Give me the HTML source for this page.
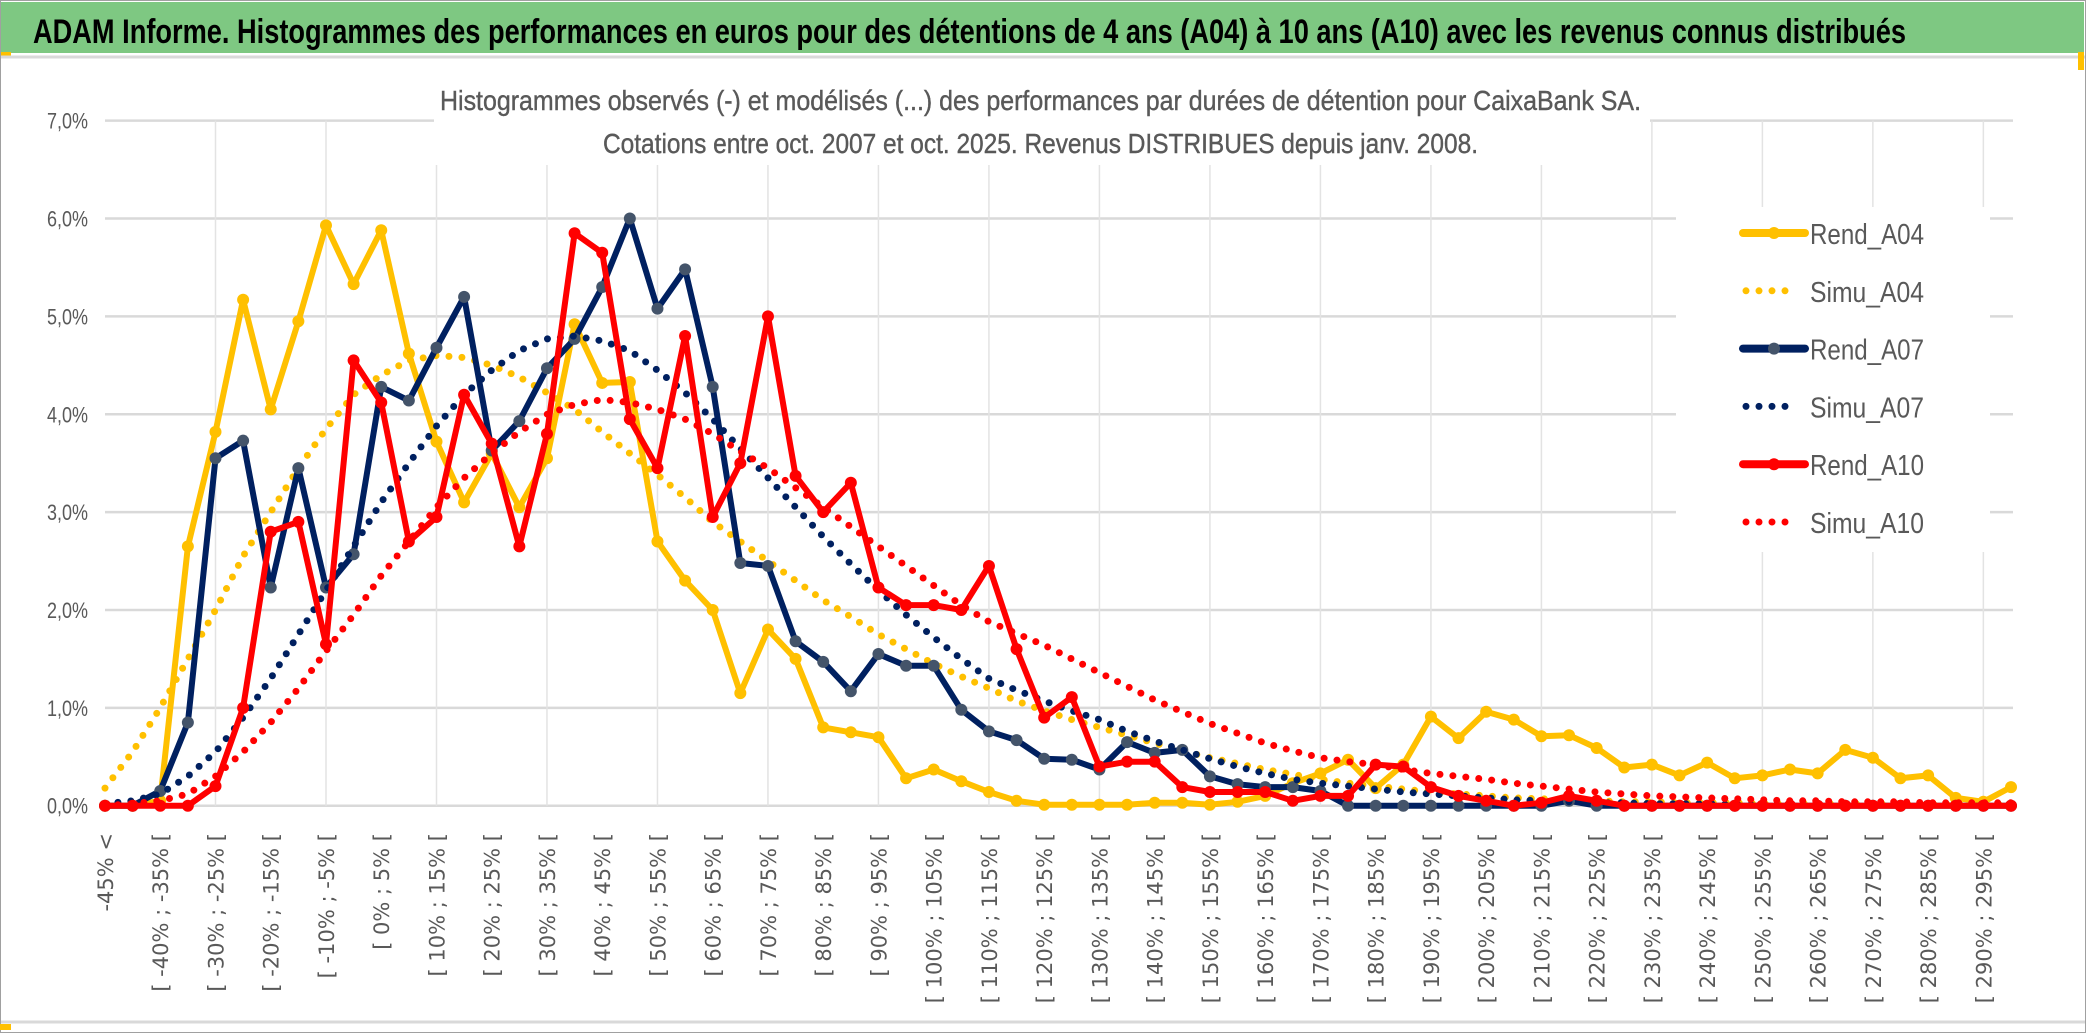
<!DOCTYPE html>
<html><head><meta charset="utf-8"><style>
html,body{margin:0;padding:0;background:#fff;}
svg{display:block;}
</style></head><body>
<svg id="chart" width="2086" height="1033" viewBox="0 0 2086 1033" xmlns="http://www.w3.org/2000/svg" font-family="Liberation Sans, sans-serif">
<rect x="0" y="0" width="2086" height="1033" fill="#fff"/>
<rect x="1" y="2" width="2083" height="51" fill="#7ec882"/>
<rect x="0" y="52" width="11" height="4" fill="#ffc000"/>
<text x="33" y="43" font-size="34" font-weight="bold" fill="#000" textLength="1873" lengthAdjust="spacingAndGlyphs">ADAM Informe. Histogrammes des performances en euros pour des détentions de 4 ans (A04) à 10 ans (A10) avec les revenus connus distribués</text>
<line x1="0" y1="57" x2="2086" y2="57" stroke="#d9d9d9" stroke-width="3"/>
<line x1="0" y1="1022" x2="2086" y2="1022" stroke="#d9d9d9" stroke-width="3"/>
<rect x="0" y="0" width="2086" height="1033" fill="none" stroke="#a0a0a0" stroke-width="2"/>
<rect x="0" y="1024" width="11" height="6" fill="#ffc000"/>
<rect x="2078" y="52" width="6" height="18" fill="#ffc000"/>
<g id="grid"></g>
<rect x="434" y="70" width="1216" height="95" fill="#fff"/>
<text x="440" y="110" font-size="28" fill="#595959" stroke="#595959" stroke-width="0.4" textLength="1201" lengthAdjust="spacingAndGlyphs">Histogrammes observés (-) et modélisés (...) des performances par durées de détention pour CaixaBank SA.</text>
<text x="603" y="153" font-size="28" fill="#595959" stroke="#595959" stroke-width="0.4" textLength="875" lengthAdjust="spacingAndGlyphs">Cotations entre oct. 2007 et oct. 2025. Revenus DISTRIBUES depuis janv. 2008.</text>
<g id="yaxis"></g>
<g id="xaxis"></g>
<g id="series"></g>
<rect x="1676" y="207" width="314" height="345" fill="#fff"/>
<g id="legend"></g>
</svg>
<script>
const categories = ["-45% <"];
for (let k = 1; k <= 69; k++) { const a = -50 + 5*k, b = -45 + 5*k; categories.push("[ " + a + "% ; " + b + "% ["); }
const yTicks = [0,1,2,3,4,5,6,7];
const yTickLabels = ["0,0%","1,0%","2,0%","3,0%","4,0%","5,0%","6,0%","7,0%"];
const seriesNames = ["Rend_A04","Simu_A04","Rend_A07","Simu_A07","Rend_A10","Simu_A10"];
const rendA04 = [0,0,0.05,2.65,3.82,5.17,4.05,4.95,5.93,5.33,5.88,4.62,3.72,3.1,3.6,3.05,3.55,4.92,4.32,4.33,2.7,2.3,2.0,1.15,1.8,1.5,0.8,0.75,0.7,0.28,0.37,0.25,0.14,0.05,0.01,0.01,0.01,0.01,0.03,0.03,0.01,0.04,0.1,0.23,0.33,0.47,0.18,0.42,0.91,0.69,0.96,0.88,0.71,0.72,0.59,0.39,0.42,0.31,0.44,0.28,0.31,0.37,0.33,0.57,0.49,0.28,0.31,0.08,0.04,0.19];
const simuA04 = [0.18,0.55,1.0,1.5,2.0,2.55,3.0,3.45,3.85,4.2,4.4,4.55,4.6,4.58,4.5,4.38,4.22,4.05,3.82,3.6,3.38,3.15,2.9,2.7,2.5,2.3,2.1,1.93,1.75,1.6,1.45,1.32,1.2,1.07,0.97,0.88,0.8,0.72,0.64,0.56,0.49,0.43,0.37,0.32,0.27,0.23,0.2,0.17,0.14,0.12,0.1,0.08,0.07,0.06,0.05,0.04,0.04,0.03,0.03,0.03,0.02,0.02,0.02,0.02,0.02,0.01,0.01,0.01,0.01,0.01];
const rendA07 = [0,0,0.15,0.85,3.55,3.73,2.23,3.45,2.23,2.57,4.28,4.14,4.68,5.2,3.63,3.93,4.47,4.77,5.3,6.0,5.08,5.48,4.28,2.48,2.45,1.68,1.47,1.17,1.55,1.43,1.43,0.98,0.76,0.67,0.48,0.47,0.37,0.65,0.54,0.57,0.3,0.22,0.19,0.19,0.15,0,0,0,0,0,0,0,0,0.05,0,0,0,0,0,0,0,0,0,0,0,0,0,0,0,0];
const simuA07 = [0.02,0.05,0.12,0.3,0.55,0.9,1.3,1.75,2.2,2.65,3.1,3.5,3.88,4.2,4.45,4.65,4.77,4.8,4.75,4.65,4.45,4.22,3.95,3.65,3.35,3.05,2.75,2.47,2.2,1.95,1.72,1.5,1.3,1.18,1.07,0.97,0.88,0.76,0.66,0.57,0.48,0.4,0.33,0.27,0.23,0.2,0.17,0.14,0.12,0.1,0.08,0.06,0.05,0.04,0.03,0.03,0.02,0.02,0.02,0.01,0.01,0.01,0.01,0.01,0.01,0.01,0.01,0.01,0.01,0.01];
const rendA10 = [0,0,0,0,0.2,1.0,2.8,2.9,1.65,4.55,4.12,2.7,2.95,4.2,3.7,2.65,3.8,5.85,5.65,3.95,3.45,4.8,2.95,3.5,5.0,3.37,3.0,3.3,2.23,2.05,2.05,2.0,2.45,1.6,0.9,1.11,0.4,0.45,0.45,0.19,0.14,0.14,0.14,0.05,0.1,0.1,0.42,0.4,0.19,0.1,0.05,0,0.03,0.1,0.05,0,0,0,0,0,0,0,0,0,0,0,0,0,0,0];
const simuA10 = [0,0.02,0.05,0.12,0.3,0.55,0.85,1.2,1.58,1.95,2.35,2.7,3.05,3.35,3.6,3.82,4.0,4.1,4.15,4.12,4.05,3.95,3.8,3.62,3.45,3.25,3.05,2.85,2.65,2.45,2.25,2.05,1.88,1.76,1.64,1.5,1.36,1.22,1.08,0.96,0.84,0.74,0.64,0.56,0.49,0.45,0.42,0.37,0.33,0.3,0.27,0.23,0.2,0.17,0.14,0.12,0.1,0.09,0.08,0.07,0.06,0.05,0.05,0.04,0.04,0.04,0.03,0.03,0.03,0.03];

const NS = "http://www.w3.org/2000/svg";
const X0 = 105, X1 = 2011, Y0 = 805.7, YPER = 97.86;
function xScale(i){ return X0 + (X1 - X0) * i / (categories.length - 1); }
function yScale(v){ return Y0 - v * YPER; }
function mk(tag, attrs, parent){ const e = document.createElementNS(NS, tag); for (const k in attrs) e.setAttribute(k, attrs[k]); parent.appendChild(e); return e; }

const grid = document.getElementById("grid");
yTicks.forEach((t) => {
  const l = mk("line", {x1: X0, x2: 2013, y1: yScale(t), y2: yScale(t), stroke: "#d9d9d9", "stroke-width": 2.5}, grid);
  
  
});
for (let i = 4; i < categories.length; i += 4) {
  const l = mk("line", {x1: xScale(i), x2: xScale(i), y1: yScale(7), y2: Y0, stroke: "#e3e3e3", "stroke-width": 1.5}, grid);
  
  
}

const yaxis = document.getElementById("yaxis");
yTicks.forEach((t, k) => {
  const tx = mk("text", {x: 88, y: yScale(t) + 8, "text-anchor": "end", "font-size": 22, fill: "#595959", textLength: 41, lengthAdjust: "spacingAndGlyphs"}, yaxis);
  tx.textContent = yTickLabels[k];
  
  
});

const xaxis = document.getElementById("xaxis");
categories.forEach((c, i) => {
  if (i % 2 !== 0) return;
  const x = xScale(i) + 8, y = 833;
  const tx = mk("text", {x: x, y: y, transform: "rotate(-90 " + x + " " + y + ")", "text-anchor": "end", "font-size": 21, "font-family": "DejaVu Sans, sans-serif", fill: "#595959"}, xaxis);
  tx.textContent = c;
  
  
});

const seriesData = [rendA04, simuA04, rendA07, simuA07, rendA10, simuA10];
const colors = ["#ffc000","#ffc000","#002060","#002060","#ff0000","#ff0000"];
const markerColors = ["#ffc000", null, "#44546a", null, "#ff0000", null];
const sg = document.getElementById("series");
seriesData.forEach((vals, s) => {
  const g = mk("g", {}, sg);
  
  
  const pts = vals.map((v, i) => xScale(i).toFixed(1) + "," + yScale(v).toFixed(1)).join(" ");
  const dotted = s % 2 === 1;
  const pl = mk("polyline", {points: pts, fill: "none", stroke: colors[s], "stroke-width": dotted ? 7 : 6, "stroke-linejoin": "round", "stroke-linecap": "round"}, g);
  if (dotted) pl.setAttribute("stroke-dasharray", "0 13");
  
  
  if (!dotted) {
    vals.forEach((v, i) => {
      const c = mk("circle", {cx: xScale(i), cy: yScale(v), r: 6, fill: markerColors[s]}, g);
      
      
    });
  }
});

const lg = document.getElementById("legend");
seriesNames.forEach((n, s) => {
  const y = 233 + s * 57.8;
  const g = mk("g", {}, lg);
  
  
  const dotted = s % 2 === 1;
  const l = mk("line", {x1: dotted ? 1746 : 1743, x2: dotted ? 1792 : 1805, y1: y, y2: y, stroke: colors[s], "stroke-width": dotted ? 7 : 8, "stroke-linecap": "round"}, g);
  if (dotted) l.setAttribute("stroke-dasharray", "0 13");
  if (!dotted) mk("circle", {cx: 1774, cy: y, r: 6, fill: markerColors[s]}, g);
  const t = mk("text", {x: 1810, y: y + 11, "font-size": 29, fill: "#595959", textLength: 114, lengthAdjust: "spacingAndGlyphs"}, g);
  t.textContent = n;
});
</script>
</body></html>
